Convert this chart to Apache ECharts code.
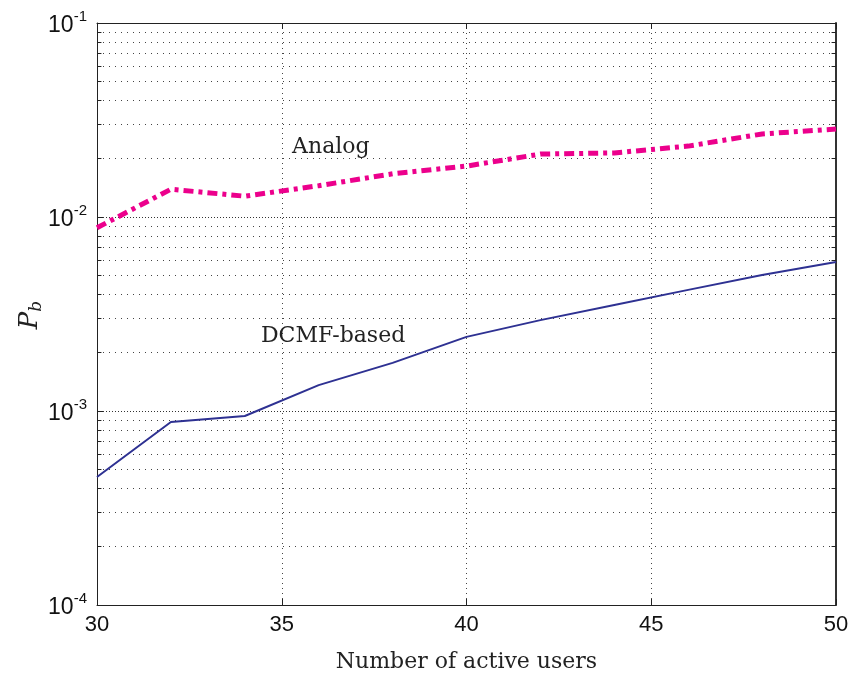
<!DOCTYPE html>
<html>
<head>
<meta charset="utf-8">
<script src="https://cdn.jsdelivr.net/npm/echarts@6/dist/echarts.min.js"></script>
<style>
  html, body { margin: 0; padding: 0; background: #fff; }
  #chart { width: 851px; height: 673px; }
</style>
</head>
<body>
<div id="chart"></div>
<script>
// Number of active users
const users = [30, 32, 34, 36, 38, 40, 42, 44, 46, 48, 50];
// Bit error probability, analog scheme
const analogPb = [0.0088, 0.0139, 0.0128, 0.0145, 0.0167, 0.0183, 0.0211, 0.0214, 0.0232, 0.0268, 0.0284];
// Bit error probability, DCMF-based scheme
const dcmfPb = [0.000457, 0.000877, 0.000942, 0.00136, 0.00177, 0.00241, 0.00294, 0.00352, 0.00421, 0.00503, 0.00586];
// Decade ticks of the probability axis
const yMajor = [1e-4, 1e-3, 1e-2, 1e-1];
// In-plot curve labels: [text, users, Pb]
const curveLabels = [['Analog', 36.33, 0.0230], ['DCMF-based', 36.39, 0.00244]];

// Minor grid values 2..9 x 10^k inside each decade
const yMinor = [];
for (let i = 0; i < yMajor.length - 1; i++) {
  for (let k = 2; k <= 9; k++) yMinor.push(+(k * yMajor[i]).toPrecision(3));
}

const chart = echarts.init(document.getElementById('chart'));

const axisColor = '#222';
const gridDot = { color: '#444', width: 1, type: [1, 4] };

const minorGrid = yMinor.map(v => [{ coord: [30, v] }, { coord: [50, v] }]);
const minorTicksLeft = yMinor.map(v => [{ coord: [30, v] }, { coord: [30.12, v] }]);
const minorTicksRight = yMinor.map(v => [{ coord: [50, v] }, { coord: [49.88, v] }]);

chart.setOption({
  animation: false,
  grid: { left: 97, right: 15, top: 23, bottom: 68, containLabel: false, outerBoundsMode: 'none' },
  xAxis: [{
    type: 'value', min: 30, max: 50, interval: 5,
    name: 'Number of active users',
    nameLocation: 'middle', nameGap: 46,
    nameTextStyle: { fontFamily: 'DejaVu Serif', fontSize: 22, color: '#222' },
    axisLine: { show: true, lineStyle: { color: axisColor, width: 1 } },
    axisTick: { show: true, inside: true, length: 6, lineStyle: { color: axisColor } },
    axisLabel: { fontFamily: 'Liberation Sans', fontSize: 22, color: '#111', margin: 9 },
    splitLine: { show: true, lineStyle: gridDot }
  }, {
    type: 'value', min: 30, max: 50, interval: 5, position: 'top',
    axisLine: { show: true, lineStyle: { color: axisColor, width: 1 } },
    axisTick: { show: true, inside: true, length: 6, lineStyle: { color: axisColor } },
    axisLabel: { show: false },
    splitLine: { show: false }
  }],
  yAxis: [{
    type: 'log', logBase: 10, min: 1e-4, max: 1e-1,
    axisLine: { show: true, lineStyle: { color: axisColor, width: 1 } },
    axisTick: { show: true, inside: true, length: 6, lineStyle: { color: axisColor } },
    axisLabel: {
      margin: 10,
      formatter: v => '{b|10}{s|' + Math.round(Math.log10(v)) + '}',
      rich: {
        b: { fontFamily: 'Liberation Sans', fontSize: 23, color: '#111', lineHeight: 28, verticalAlign: 'bottom' },
        s: { fontFamily: 'Liberation Sans', fontSize: 15, color: '#111', lineHeight: 28, verticalAlign: 'top', padding: [0, 0, 14, 0] }
      }
    },
    splitLine: { show: true, lineStyle: { color: '#333', width: 1, type: [1, 2] } }
  }, {
    type: 'log', logBase: 10, min: 1e-4, max: 1e-1, position: 'right',
    axisLine: { show: true, lineStyle: { color: '#333', width: 2 } },
    axisTick: { show: true, inside: true, length: 6, lineStyle: { color: axisColor } },
    axisLabel: { show: false },
    splitLine: { show: false }
  }],
  series: [{
    name: 'Analog',
    type: 'line',
    data: users.map((u, i) => [u, analogPb[i]]),
    symbol: 'none',
    z: 5,
    lineStyle: { color: '#EC008C', width: 5, type: [10, 5, 4, 5], cap: 'butt' },
    markLine: {
      silent: true, symbol: 'none', label: { show: false },
      lineStyle: { color: '#444', width: 1, type: [1, 5] },
      data: minorGrid
    }
  }, {
    name: 'DCMF-based',
    type: 'line',
    data: users.map((u, i) => [u, dcmfPb[i]]),
    symbol: 'none',
    z: 5,
    lineStyle: { color: '#2E3192', width: 2 },
    markLine: {
      silent: true, symbol: 'none', label: { show: false },
      lineStyle: { color: axisColor, width: 1, type: 'solid' },
      data: minorTicksLeft.concat(minorTicksRight)
    }
  }]
});

// Axis title and curve labels, placed through the chart's coordinate system
const textGraphics = curveLabels.map(([txt, x, y]) => {
  const p = chart.convertToPixel({ gridIndex: 0 }, [x, y]);
  return {
    type: 'text', x: p[0], y: p[1], z: 10,
    style: { text: txt, align: 'center', verticalAlign: 'middle', font: '22px "DejaVu Serif"', fill: '#222' }
  };
});
textGraphics.push({
  type: 'text',
  x: 30, y: 315,
  rotation: Math.PI / 2,
  style: {
    text: '{p|P}{b|b}',
    align: 'center', verticalAlign: 'middle',
    rich: {
      p: { fontFamily: 'DejaVu Serif', fontStyle: 'italic', fontSize: 26, fill: '#222', lineHeight: 30, verticalAlign: 'middle' },
      b: { fontFamily: 'DejaVu Serif', fontStyle: 'italic', fontSize: 17, fill: '#222', lineHeight: 30, verticalAlign: 'bottom' }
    }
  }
});
chart.setOption({ graphic: textGraphics });
</script>
</body>
</html>
